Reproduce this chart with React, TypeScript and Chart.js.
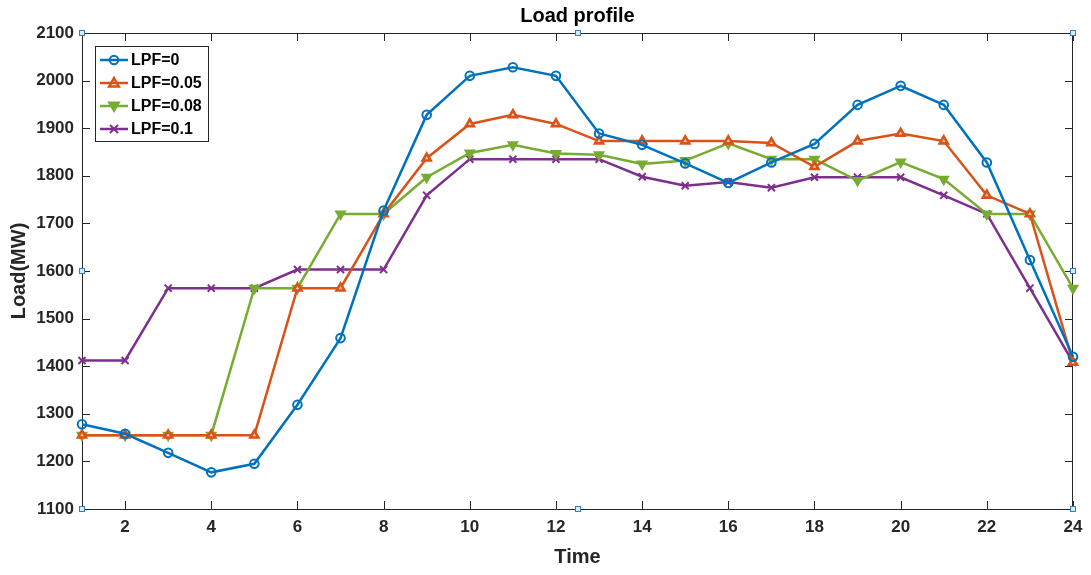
import React, { useEffect, useRef } from "react";
import { Chart, registerables } from "chart.js";

Chart.register(...registerables);

const hours = [1, 2, 3, 4, 5, 6, 7, 8, 9, 10, 11, 12, 13, 14, 15, 16, 17, 18, 19, 20, 21, 22, 23, 24];
const lpf0 = [1278, 1258, 1218, 1177, 1195, 1319, 1459, 1727, 1928, 2010, 2028, 2010, 1889, 1865, 1826, 1785, 1828, 1867, 1949, 1989, 1949, 1828, 1623, 1420];
const lpf005 = [1255, 1255, 1255, 1255, 1255, 1564, 1564, 1720, 1837, 1909, 1928, 1909, 1873, 1873, 1873, 1873, 1869, 1819, 1873, 1889, 1873, 1759, 1720, 1408];
const lpf008 = [1255, 1255, 1255, 1255, 1564, 1564, 1720, 1720, 1797, 1848, 1865, 1847, 1844, 1825, 1832, 1868, 1835, 1835, 1790, 1829, 1793, 1720, 1720, 1564];
const lpf01 = [1412, 1412, 1564, 1564, 1564, 1603, 1603, 1603, 1759, 1835, 1835, 1835, 1835, 1798, 1779, 1787, 1775, 1797, 1797, 1797, 1759, 1720, 1564, 1408];
const seriesNames = ["LPF=0", "LPF=0.05", "LPF=0.08", "LPF=0.1"];
const xTickValues = [2, 4, 6, 8, 10, 12, 14, 16, 18, 20, 22, 24];
const titleText = "Load profile";
const xTitle = "Time";
const yTitle = "Load(MW)";

const FONT = '"Liberation Sans", Arial, sans-serif';
const AX = "#262626";
const COLORS = ["#0072BD", "#D95319", "#77AC30", "#7E2F8E"];
const STYLES = ["circle", "triangle", "triangleDown", "cross"];

function drawMarker(ctx: CanvasRenderingContext2D, style: string, x: number, y: number, color: string) {
  ctx.save();
  ctx.strokeStyle = color;
  ctx.fillStyle = color;
  ctx.lineWidth = 2;
  ctx.beginPath();
  if (style === "circle") {
    ctx.arc(x, y, 4.2, 0, Math.PI * 2);
    ctx.stroke();
  } else if (style === "triangle") {
    ctx.moveTo(x, y - 5);
    ctx.lineTo(x + 4.8, y + 3.5);
    ctx.lineTo(x - 4.8, y + 3.5);
    ctx.closePath();
    ctx.lineWidth = 2.5;
    ctx.stroke();
  } else if (style === "triangleDown") {
    ctx.moveTo(x, y + 5);
    ctx.lineTo(x + 5, y - 3.5);
    ctx.lineTo(x - 5, y - 3.5);
    ctx.closePath();
    ctx.fill();
    ctx.stroke();
  } else {
    ctx.moveTo(x - 4, y - 4);
    ctx.lineTo(x + 4, y + 4);
    ctx.moveTo(x + 4, y - 4);
    ctx.lineTo(x - 4, y + 4);
    ctx.stroke();
  }
  ctx.restore();
}

const decorPlugin = {
  id: "decor",
  beforeDatasetsDraw(chart: any) {
    const { ctx, chartArea: a, scales } = chart;
    ctx.save();
    ctx.strokeStyle = AX;
    ctx.lineWidth = 1;
    ctx.strokeRect(a.left + 0.5, a.top + 0.5, a.right - a.left - 1, a.bottom - a.top);
    const TL = 8;
    ctx.beginPath();
    for (const v of xTickValues) {
      const px = Math.round(scales.x.getPixelForValue(v)) + 0.5;
      ctx.moveTo(px, a.bottom);
      ctx.lineTo(px, a.bottom - TL);
      ctx.moveTo(px, a.top);
      ctx.lineTo(px, a.top + TL);
    }
    for (let v = 1100; v <= 2100; v += 100) {
      const py = Math.round(scales.y.getPixelForValue(v)) + 0.5;
      ctx.moveTo(a.left, py);
      ctx.lineTo(a.left + TL, py);
      ctx.moveTo(a.right, py);
      ctx.lineTo(a.right - TL, py);
    }
    ctx.stroke();
    ctx.restore();
  },
  afterDraw(chart: any) {
    const { ctx, chartArea: a } = chart;
    ctx.save();
    ctx.fillStyle = "#000";
    ctx.textAlign = "center";
    ctx.textBaseline = "middle";
    ctx.font = `bold 20px ${FONT}`;
    const cx = (a.left + a.right) / 2;
    ctx.fillText(titleText, cx, 16);
    ctx.fillStyle = AX;
    ctx.fillText(xTitle, cx, 557);
    ctx.save();
    ctx.translate(19, (a.top + a.bottom) / 2);
    ctx.rotate(-Math.PI / 2);
    ctx.fillText(yTitle, 0, 0);
    ctx.restore();

    const lx = a.left + 13, ly = a.top + 13, lw = 113, lh = 95;
    ctx.fillStyle = "#fff";
    ctx.fillRect(lx, ly, lw, lh);
    ctx.strokeStyle = AX;
    ctx.lineWidth = 1;
    ctx.strokeRect(lx + 0.5, ly + 0.5, lw, lh);
    const rows = [60, 83, 106, 129];
    ctx.font = `bold 16px ${FONT}`;
    ctx.textAlign = "left";
    ctx.textBaseline = "middle";
    seriesNames.forEach((name, i) => {
      const y = rows[i];
      ctx.strokeStyle = COLORS[i];
      ctx.lineWidth = 2.5;
      ctx.beginPath();
      ctx.moveTo(100, y);
      ctx.lineTo(128, y);
      ctx.stroke();
      drawMarker(ctx, STYLES[i], 114, y, COLORS[i]);
      ctx.fillStyle = "#000";
      ctx.fillText(name, 131, y + 1);
    });

    const mx = Math.round(cx), my = Math.round((a.top + a.bottom) / 2);
    const pts = [
      [a.left, a.top], [mx, a.top], [a.right, a.top],
      [a.left, my], [a.right, my],
      [a.left, a.bottom], [mx, a.bottom], [a.right, a.bottom],
    ];
    for (const [x, y] of pts) {
      ctx.fillStyle = "#d6eaf8";
      ctx.fillRect(x - 3, y - 3, 6, 6);
      ctx.strokeStyle = "#2f7fc1";
      ctx.lineWidth = 1;
      ctx.strokeRect(x - 2.5, y - 2.5, 5, 5);
    }
    ctx.restore();
  },
};

export default function App() {
  const ref = useRef<HTMLCanvasElement | null>(null);
  useEffect(() => {
    document.body.style.margin = "0";
    const canvas = ref.current;
    if (!canvas) return;
    const all = [lpf0, lpf005, lpf008, lpf01];
    const chart = new Chart(canvas, {
      type: "line",
      data: {
        datasets: all.map((vals, i) => ({
          label: seriesNames[i],
          data: hours.map((h, j) => ({ x: h, y: vals[j] })),
          borderColor: COLORS[i],
          backgroundColor: i === 2 ? COLORS[i] : "transparent",
          borderWidth: 2.5,
          pointStyle: i === 0 ? "circle" : i === 3 ? "crossRot" : "triangle",
          rotation: i === 2 ? 180 : 0,
          pointRadius: i === 0 ? 4.3 : i === 1 ? 4.6 : 5,
          pointBorderWidth: i === 1 ? 2.6 : 2,
          pointBorderColor: COLORS[i],
          pointBackgroundColor: i === 2 ? COLORS[i] : i === 1 ? "#f3c9b5" : "transparent",
          tension: 0,
          clip: false as any,
        })),
      },
      options: {
        animation: false,
        responsive: false,
        devicePixelRatio: 1,
        layout: { padding: { top: 33, right: 18, left: 0, bottom: 0 } },
        plugins: { legend: { display: false }, title: { display: false }, tooltip: { enabled: false } },
        scales: {
          x: {
            type: "linear",
            min: 1,
            max: 24,
            grid: { display: false, drawTicks: false },
            border: { display: false },
            afterBuildTicks: (s: any) => {
              s.ticks = xTickValues.map((v) => ({ value: v }));
            },
            afterFit: (s: any) => {
              s.height = 66;
            },
            ticks: {
              color: AX,
              font: { family: FONT, size: 17, weight: "bold" },
              padding: 8,
              maxRotation: 0,
              autoSkip: false,
              callback: (v: any) => String(v),
            },
          },
          y: {
            min: 1100,
            max: 2100,
            grid: { display: false, drawTicks: false },
            border: { display: false },
            afterFit: (s: any) => {
              s.width = 82;
            },
            ticks: {
              stepSize: 100,
              color: AX,
              font: { family: FONT, size: 17, weight: "bold" },
              padding: 8,
              callback: (v: any) => String(v),
            },
          },
        },
      },
      plugins: [decorPlugin],
    } as any);
    return () => chart.destroy();
  }, []);
  return (
    <div style={{ width: 1091, height: 575, background: "#fff" }}>
      <canvas ref={ref} width={1091} height={575} style={{ display: "block" }} />
    </div>
  );
}
